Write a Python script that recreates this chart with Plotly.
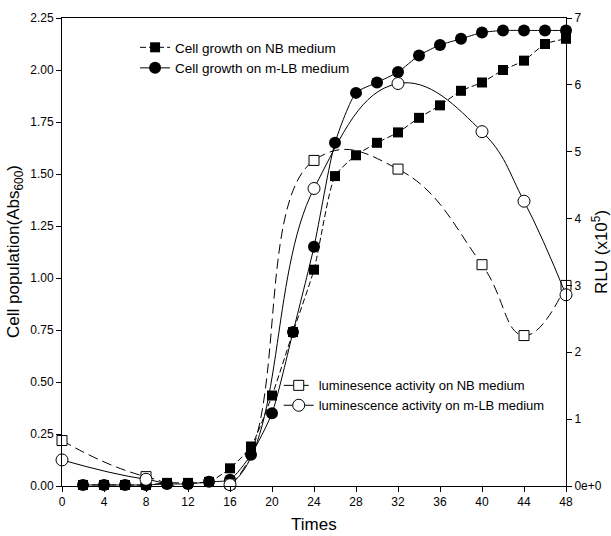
import plotly.graph_objects as go

# ---- data ----
times_growth = [2, 4, 6, 8, 10, 12, 14, 16, 18, 20, 22, 24, 26, 28, 30, 32, 34, 36, 38, 40, 42, 44, 46, 48]
growth_nb = [0.005, 0.005, 0.005, 0.005, 0.015, 0.015, 0.02, 0.085, 0.19, 0.435, 0.74, 1.04, 1.49, 1.59,
             1.65, 1.70, 1.77, 1.83, 1.90, 1.94, 2.00, 2.045, 2.125, 2.15]
growth_mlb = [0.005, 0.005, 0.005, 0.005, 0.01, 0.01, 0.02, 0.03, 0.15, 0.35, 0.74, 1.15, 1.65, 1.89,
              1.94, 1.99, 2.07, 2.12, 2.15, 2.18, 2.19, 2.19, 2.19, 2.19]

times_lum_nb = [0, 8, 16, 24, 32, 40, 44, 48]
lum_nb = [0.68, 0.14, 0.03, 4.87, 4.74, 3.31, 2.25, 3.0]
times_lum_mlb = [0, 8, 16, 24, 32, 40, 44, 48]
lum_mlb = [0.39, 0.10, 0.02, 4.45, 6.02, 5.30, 4.26, 2.86]

x_ticks = list(range(0, 49, 4))
y_ticks = [0, 0.25, 0.5, 0.75, 1.0, 1.25, 1.5, 1.75, 2.0, 2.25]
y_ticktext = ["0.00", "0.25", "0.50", "0.75", "1.00", "1.25", "1.50", "1.75", "2.00", "2.25"]
y2_ticks = [0, 1, 2, 3, 4, 5, 6, 7]
y2_ticktext = ["0e+0", "1", "2", "3", "4", "5", "6", "7"]

FONT = "Liberation Sans, Arial, sans-serif"
TICKFONT = dict(family="Liberation Sans Narrow, Liberation Sans, Arial", size=12, color="black")

fig = go.Figure()

fig.add_trace(go.Scatter(
    x=times_growth, y=growth_nb, name="Cell growth on NB medium",
    mode="lines+markers", line=dict(color="black", width=1, dash="6px,3px", shape="spline", smoothing=0.6),
    marker=dict(symbol="square", size=10, color="black"), cliponaxis=False, legend="legend"))
fig.add_trace(go.Scatter(
    x=times_growth, y=growth_mlb, name="Cell growth on m-LB medium",
    mode="lines+markers", line=dict(color="black", width=1, shape="spline", smoothing=0.6),
    marker=dict(symbol="circle", size=12, color="black"), cliponaxis=False, legend="legend"))

fig.add_trace(go.Scatter(
    x=times_lum_nb, y=lum_nb, name="luminesence activity on NB medium", yaxis="y2",
    mode="lines+markers", line=dict(color="black", width=1, dash="10px,5px", shape="spline", smoothing=1.3),
    marker=dict(symbol="square", size=10, color="white", line=dict(color="black", width=1)),
    cliponaxis=False, legend="legend2"))
fig.add_trace(go.Scatter(
    x=times_lum_mlb, y=lum_mlb, name="luminescence activity on m-LB medium", yaxis="y2",
    mode="lines+markers", line=dict(color="black", width=1, shape="spline", smoothing=1.2),
    marker=dict(symbol="circle", size=12, color="white", line=dict(color="black", width=1)),
    cliponaxis=False, legend="legend2"))

fig.update_layout(
    width=611, height=536,
    margin=dict(l=62, r=45, t=18, b=50, autoexpand=False),
    paper_bgcolor="white", plot_bgcolor="white",
    font=dict(family=FONT, color="black"),
    xaxis=dict(
        range=[0, 48], tickvals=x_ticks, ticks="outside", ticklen=5, tickcolor="black",
        showline=True, linecolor="black", linewidth=1, mirror=True, showgrid=False, zeroline=False,
        tickfont=TICKFONT, automargin=False),
    yaxis=dict(
        range=[0, 2.25], tickvals=y_ticks, ticktext=y_ticktext, ticks="outside", ticklen=5, tickcolor="black",
        showline=True, linecolor="black", linewidth=1, showgrid=False, zeroline=False,
        tickfont=TICKFONT, automargin=False),
    yaxis2=dict(
        range=[0, 7], overlaying="y", side="right", tickvals=y2_ticks, ticktext=y2_ticktext,
        ticks="outside", ticklen=5, tickcolor="black",
        showline=True, linecolor="black", linewidth=1, showgrid=False, zeroline=False,
        tickfont=TICKFONT, automargin=False),
    legend=dict(x=0.145, y=0.97, xanchor="left", yanchor="top", bgcolor="rgba(0,0,0,0)",
                font=dict(family=FONT, size=13.5), tracegroupgap=0, itemwidth=30),
    legend2=dict(x=0.43, y=0.247, xanchor="left", yanchor="top", bgcolor="rgba(0,0,0,0)",
                 font=dict(family=FONT, size=13), tracegroupgap=0, itemwidth=30),
    showlegend=True,
    annotations=[
        dict(text="Times", xref="paper", yref="paper", x=0.5, y=0, yshift=-38,
             xanchor="center", yanchor="middle", showarrow=False, font=dict(family=FONT, size=17)),
        dict(text="Cell population(Abs<sub>600</sub>)", xref="paper", yref="paper", x=0, y=0.5, xshift=-47,
             textangle=-90, xanchor="center", yanchor="middle", showarrow=False, font=dict(family=FONT, size=17)),
        dict(text="RLU (x10<sup>5</sup>)", xref="paper", yref="paper", x=1, y=0.5, xshift=34,
             textangle=-90, xanchor="center", yanchor="middle", showarrow=False, font=dict(family=FONT, size=17)),
    ],
)

fig.write_html("out.html", config={"displayModeBar": False},
               post_script="document.body.style.margin='0';document.body.style.overflow='hidden';")
